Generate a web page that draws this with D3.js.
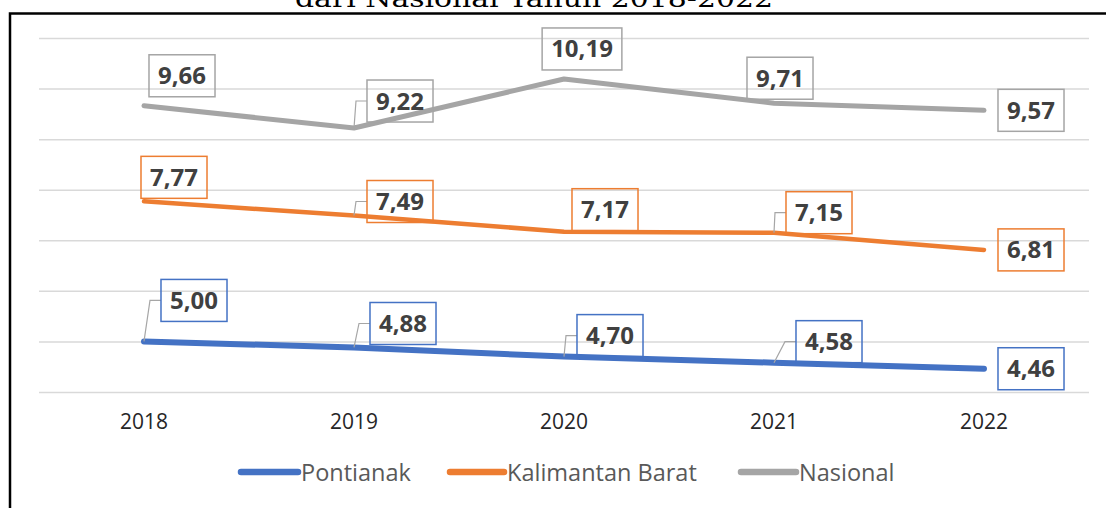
<!DOCTYPE html>
<html>
<head>
<meta charset="utf-8">
<script src="https://cdn.jsdelivr.net/npm/d3@7"></script>
<style>
  html, body { margin: 0; padding: 0; background: #fff; }
  svg { display: block; }
</style>
</head>
<body>
<svg id="chart" width="1106" height="508"></svg>
<script>
// ---- data ----
const years = ["2018", "2019", "2020", "2021", "2022"];
const pontianak = [5.00, 4.88, 4.70, 4.58, 4.46];
const kalimantanBarat = [7.77, 7.49, 7.17, 7.15, 6.81];
const nasional = [9.66, 9.22, 10.19, 9.71, 9.57];
const seriesNames = ["Pontianak", "Kalimantan Barat", "Nasional"];
const yTicks = [4, 5, 6, 7, 8, 9, 10, 11];
const titleText = "dari Nasional Tahun 2018-2022";

// ---- styling / layout ----
const colors = ["#4472C4", "#ED7D31", "#A5A5A5"];
const lineWidths = [6, 4.5, 5];
// data-label box centre offset from its point [dx, dy] and whether a leader line is drawn
const labelLayout = [
  [[50, -41, true], [49, -24, true], [46, -21, true], [55, -21, true], [47, 0, false]],
  [[30, -24, false], [46, -14, true], [41, -22, false], [45, -20, true], [47, 0, false]],
  [[38, -30, false], [46, -27, true], [18, -30, false], [6, -25, false], [47, 0, false]]
];

const svg = d3.select("#chart");
const W = 1106, H = 508;
const plot = { left: 39, right: 1089, top: 38, bottom: 392 };

const x = d3.scaleBand().domain(years).range([plot.left, plot.right]);
const y = d3.scaleLinear().domain([4, 11]).range([plot.bottom, plot.top]);
const cx = d => x(d) + x.bandwidth() / 2;

const series = [pontianak, kalimantanBarat, nasional].map((vals, i) => ({
  name: seriesNames[i],
  color: colors[i],
  width: lineWidths[i],
  points: vals.map((v, j) => ({ year: years[j], value: v, layout: labelLayout[i][j] }))
}));

// title (partially above the frame)
svg.append("text")
  .attr("x", 534).attr("y", 7)
  .attr("text-anchor", "middle")
  .attr("font-family", "DejaVu Serif, serif")
  .attr("font-size", 24)
  .attr("fill", "#000")
  .attr("textLength", 478)
  .attr("lengthAdjust", "spacingAndGlyphs")
  .text(titleText);

// frame
svg.append("path")
  .attr("d", `M10,${H} L10,13.5 L${W},13.5`)
  .attr("fill", "none")
  .attr("stroke", "#000")
  .attr("stroke-width", 2.5);

// gridlines
const grid = svg.append("g")
  .attr("transform", `translate(${plot.left},0)`)
  .call(d3.axisLeft(y).tickValues(yTicks).tickSize(-(plot.right - plot.left)).tickFormat(""));
grid.select(".domain").remove();
grid.selectAll("line").attr("stroke", "#D9D9D9").attr("stroke-width", 1.5);

// x axis labels
const xAxis = svg.append("g")
  .attr("transform", `translate(0,${plot.bottom})`)
  .call(d3.axisBottom(x).tickSize(0).tickPadding(22));
xAxis.select(".domain").remove();
xAxis.selectAll("text")
  .attr("font-family", "Open Sans, sans-serif")
  .attr("font-size", 21)
  .attr("fill", "#262626");

// lines
const line = d3.line().x(d => cx(d.year)).y(d => y(d.value));
svg.append("g").selectAll("path")
  .data(series)
  .join("path")
  .attr("d", s => line(s.points))
  .attr("fill", "none")
  .attr("stroke", s => s.color)
  .attr("stroke-width", s => s.width)
  .attr("stroke-linecap", "round")
  .attr("stroke-linejoin", "round");

// data labels
const fmt = v => d3.format(".2f")(v).replace(".", ",");
const boxH = 42, padX = 9;
const labels = svg.append("g");
series.forEach(s => {
  s.points.forEach(p => {
    const px = cx(p.year), py = y(p.value);
    const [dx, dy, leader] = p.layout;
    const g = labels.append("g");
    const t = g.append("text")
      .attr("font-family", "Open Sans, sans-serif")
      .attr("font-weight", 700)
      .attr("font-size", 24)
      .attr("fill", "#404040")
      .attr("text-anchor", "middle")
      .attr("x", px + dx)
      .attr("y", py + dy + 8.5)
      .text(fmt(p.value));
    const tw = t.node().getComputedTextLength();
    const bw = tw + padX * 2;
    const bx = px + dx - bw / 2, by = py + dy - boxH / 2;
    if (leader) {
      g.insert("path", "text")
        .attr("d", `M${px},${py} L${bx - 11},${py + dy} L${bx},${py + dy}`)
        .attr("fill", "none")
        .attr("stroke", "#A6A6A6")
        .attr("stroke-width", 1.2);
    }
    g.insert("rect", "text")
      .attr("x", bx).attr("y", by)
      .attr("width", bw).attr("height", boxH)
      .attr("fill", "none")
      .attr("stroke", s.color)
      .attr("stroke-width", 1.5);
  });
});

// legend
const legendItems = [
  { x0: 241, x1: 298 },
  { x0: 450, x1: 504 },
  { x0: 741, x1: 796 }
];
const legend = svg.append("g");
series.forEach((s, i) => {
  const li = legendItems[i];
  legend.append("line")
    .attr("x1", li.x0).attr("x2", li.x1)
    .attr("y1", 472).attr("y2", 472)
    .attr("stroke", s.color)
    .attr("stroke-width", 6.5)
    .attr("stroke-linecap", "round");
  legend.append("text")
    .attr("x", li.x1 + 3).attr("y", 480.5)
    .attr("font-family", "Open Sans, sans-serif")
    .attr("font-size", 23.5)
    .attr("fill", "#595959")
    .text(s.name);
});
</script>
</body>
</html>
